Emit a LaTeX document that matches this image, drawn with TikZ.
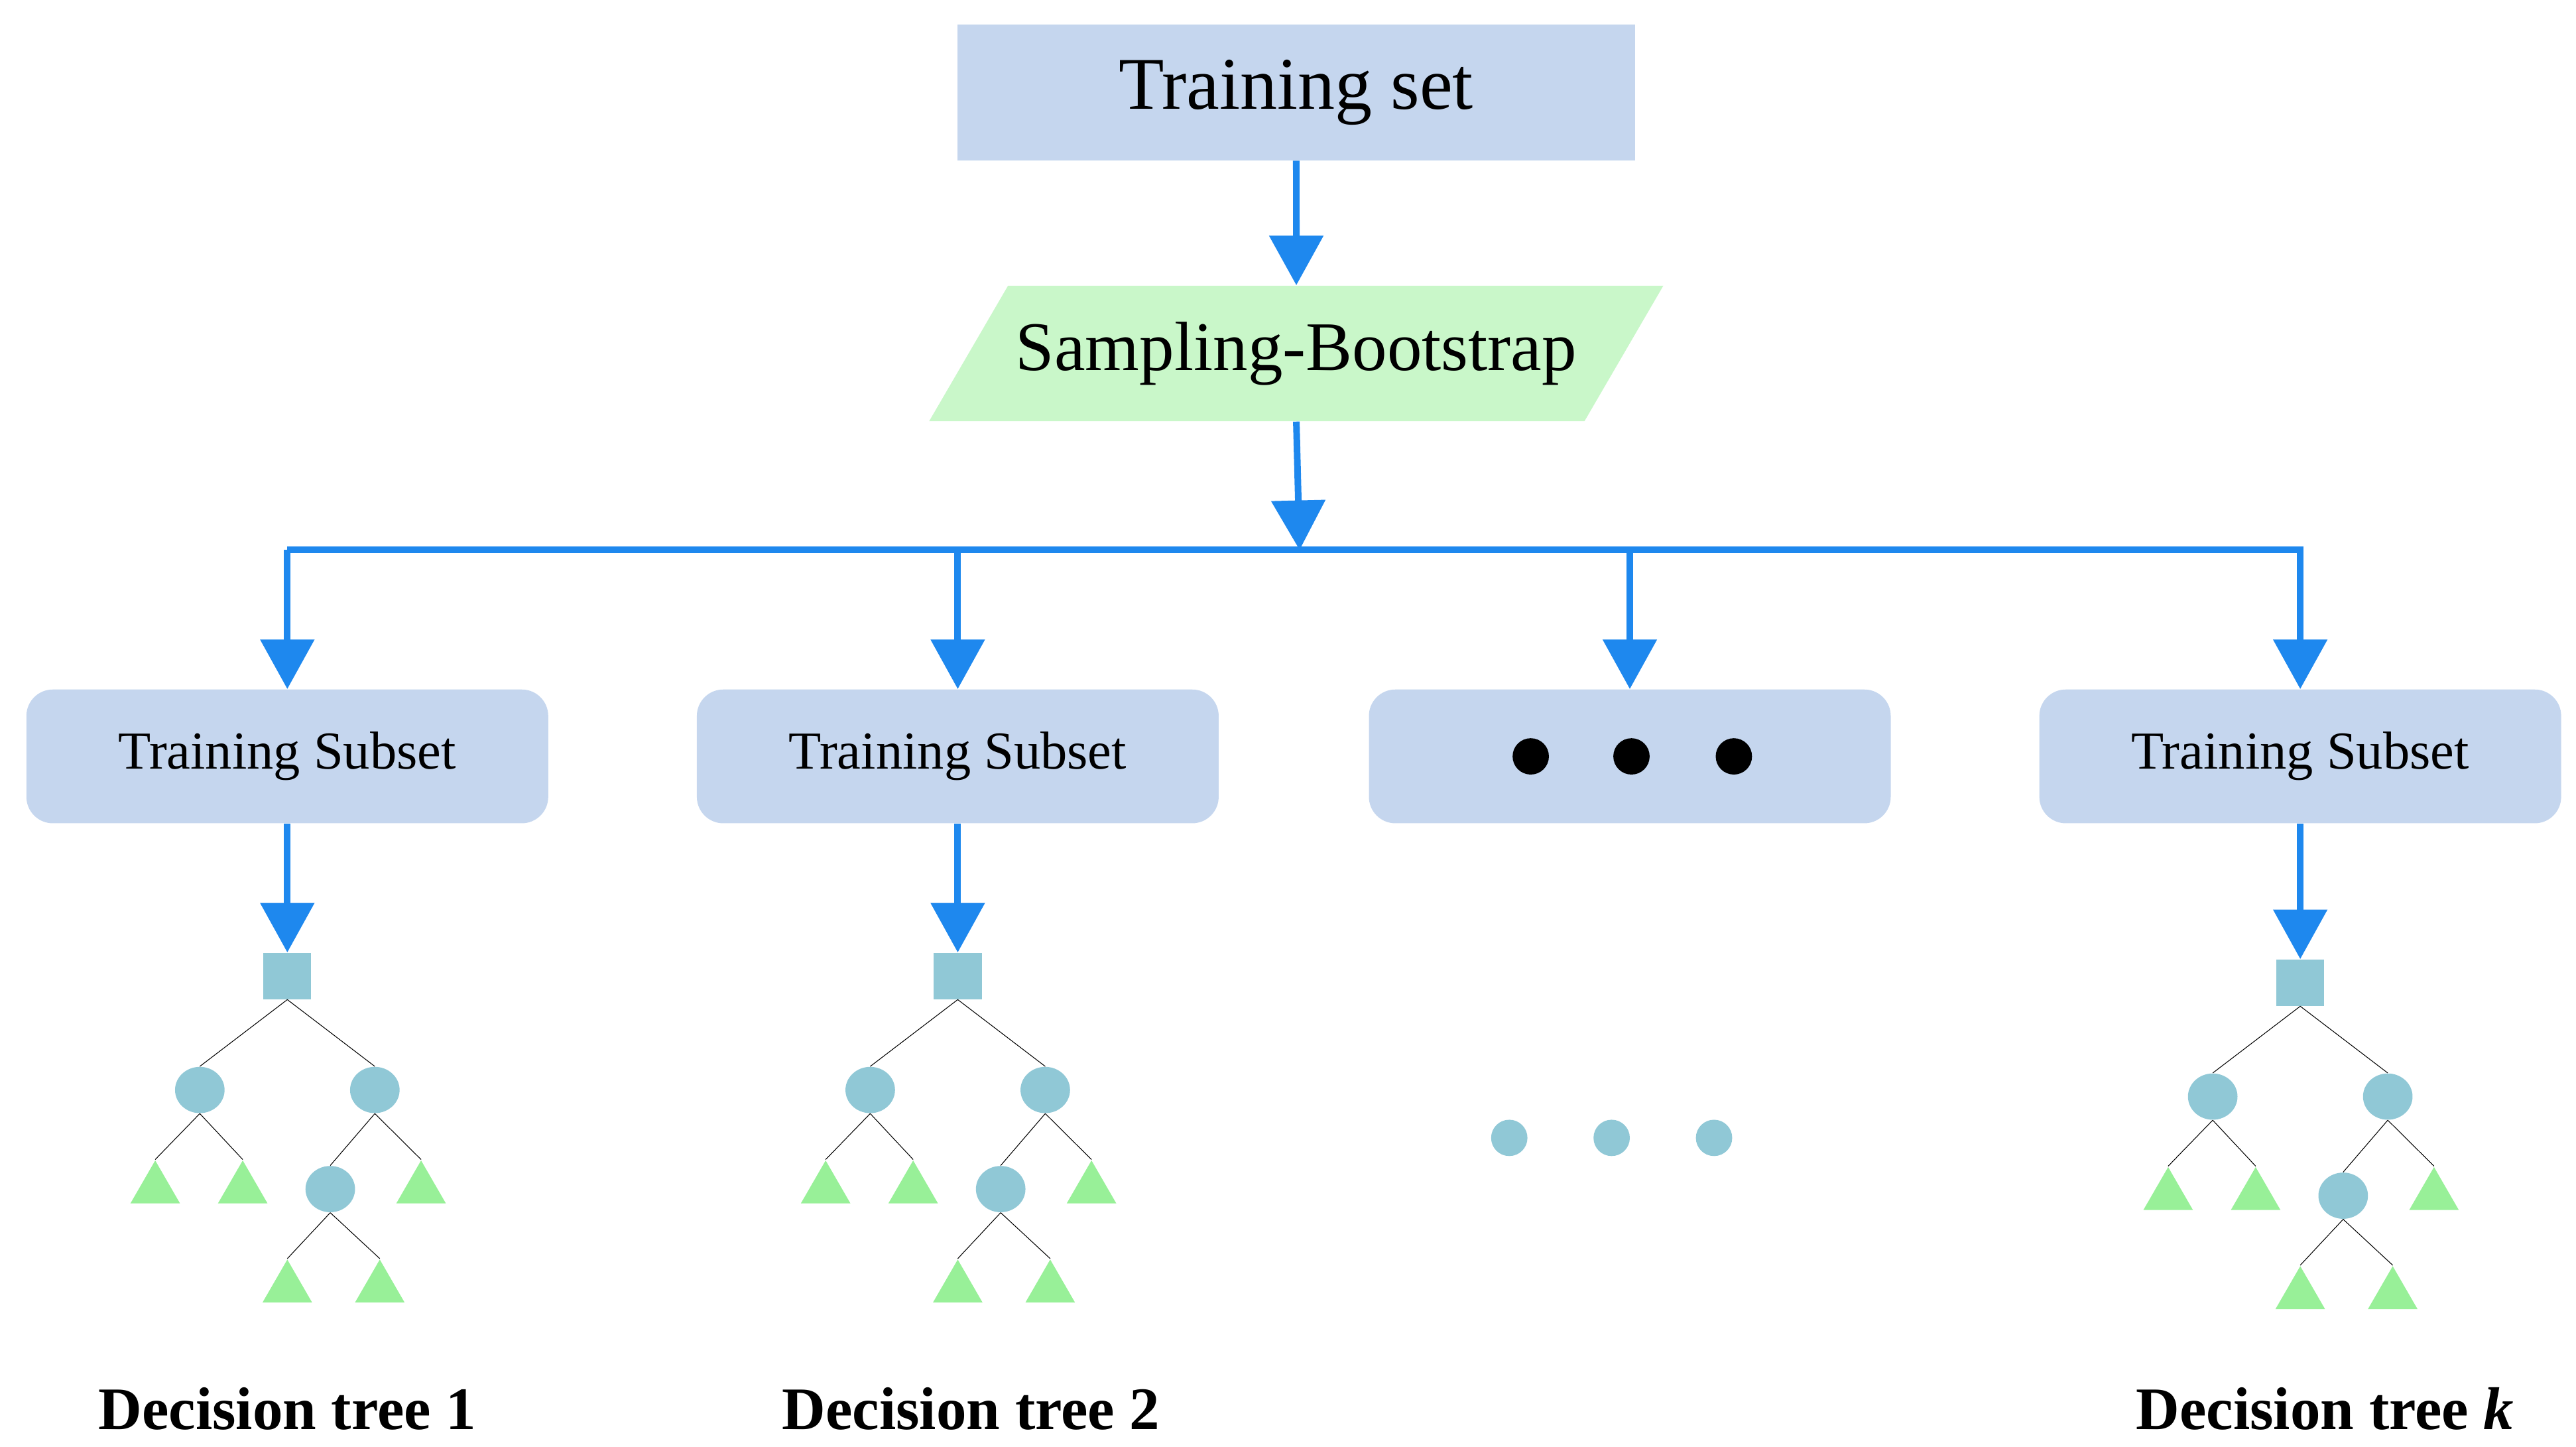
\documentclass[tikz,border=0pt]{standalone}
\usepackage{fontspec}
\setmainfont{Liberation Serif}
\usetikzlibrary{arrows.meta,shapes.geometric}
\definecolor{boxblue}{HTML}{C5D6EE}
\definecolor{pgreen}{HTML}{C9F7C9}
\definecolor{arrblue}{HTML}{1E88EE}
\definecolor{nodecol}{HTML}{90C8D6}
\definecolor{leafg}{HTML}{98F098}
\tikzset{
 arr/.style={draw=arrblue,line width=1mm,-{Triangle[width=8mm,length=7.5mm]}},
 sub/.style={rectangle,rounded corners=4mm,fill=boxblue,minimum width=79mm,minimum height=20.25mm,font=\fontsize{23}{26}\selectfont},
 inn/.style={ellipse,fill=nodecol,minimum width=7.5mm,minimum height=7mm,inner sep=0},
 sq/.style={rectangle,fill=nodecol,minimum width=7.25mm,minimum height=7mm,inner sep=0},
 leaf/.style={isosceles triangle,isosceles triangle apex angle=60,shape border rotate=90,fill=leafg,minimum height=6.5mm,inner sep=0},
 tl/.style={draw=black,line width=0.3pt},
 lab/.style={font=\fontsize{26}{30}\bfseries\selectfont},
 dot/.style={circle,fill=black,minimum size=5.5mm,inner sep=0},
 cdot/.style={circle,fill=nodecol,minimum size=5.5mm,inner sep=0},
 pics/tree/.style={code={
  \node[sq] (-r) at (0,0) {};
  \node[inn] (-a) at (-53,69) {};
  \node[inn] (-b) at (53,69) {};
  \node[leaf] (-l1) at (-80,129) {};
  \node[leaf] (-l2) at (-27,129) {};
  \node[inn] (-c) at (26,129) {};
  \node[leaf] (-l3) at (81,129) {};
  \node[leaf] (-l4) at (0,189) {};
  \node[leaf] (-l5) at (56,189) {};
  \draw[tl] (-r.south) -- (-a.north) (-r.south) -- (-b.north)
   (-a.south) -- (-l1.apex) (-a.south) -- (-l2.apex)
   (-b.south) -- (-c.north) (-b.south) -- (-l3.apex)
   (-c.south) -- (-l4.apex) (-c.south) -- (-l5.apex);
 }}
}
\begin{document}
\begin{tikzpicture}[x=0.25mm,y=-0.25mm]
\useasboundingbox (0,0) rectangle (1560,876);
\node[rectangle,fill=boxblue,minimum width=102.5mm,minimum height=20.5mm,font=\fontsize{32}{36}\selectfont] (ts) at (785,56) {Training set};
\node[trapezium,trapezium left angle=45,trapezium right angle=135,fill=pgreen,minimum width=102.5mm,minimum height=20.5mm,trapezium stretches=true,font=\fontsize{30}{34}\selectfont] (sb) at (785,214) {Sampling-Bootstrap};
\coordinate (j) at (787,333);
\coordinate (h1) at (174,333);
\coordinate (h2) at (580,333);
\coordinate (h3) at (987,333);
\coordinate (h4) at (1395,333);
\node[sub] (s1) at (174,458) {Training Subset};
\node[sub] (s2) at (580,458) {Training Subset};
\node[sub] (s3) at (987,458) {};
\node[sub] (s4) at (1393,458) {Training Subset};
\node[dot] (d1) at (927,458) {};
\node[dot] (d2) at (988,458) {};
\node[dot] (d3) at (1050,458) {};
\draw[arr] (ts.south) -- (sb.north);
\draw[arr] (sb.south) -- (j);
\draw[arrblue,line width=1mm] (h1) -- (h4);
\draw[arr] (h1) -- (s1.north);
\draw[arr] (h2) -- (s2.north);
\draw[arr] (h3) -- (s3.north);
\draw[arr] (1393,333) -- (s4.north);
\pic (t1) at (174,591) {tree};
\pic (t2) at (580,591) {tree};
\pic (t3) at (1393,595) {tree};
\draw[arr] (s1.south) -- (t1-r.north);
\draw[arr] (s2.south) -- (t2-r.north);
\draw[arr] (s4.south) -- (t3-r.north);
\node[cdot] (m1) at (914,689) {};
\node[cdot] (m2) at (976,689) {};
\node[cdot] (m3) at (1038,689) {};
\node[lab] (L1) at (174,853) {Decision tree 1};
\node[lab] (L2) at (588,853) {Decision tree 2};
\node[lab] (L3) at (1408,853) {Decision tree \textit{k}};
\end{tikzpicture}
\end{document}
